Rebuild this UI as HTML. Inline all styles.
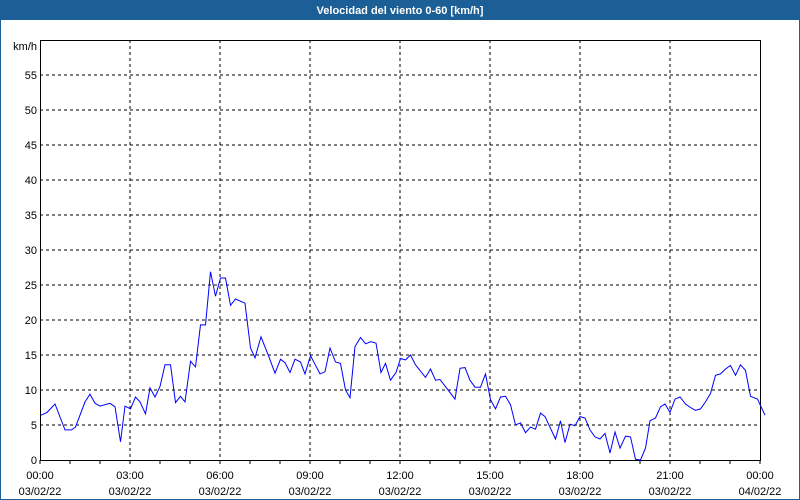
<!DOCTYPE html>
<html><head><meta charset="utf-8"><style>
body{margin:0;background:#fff;}
svg{display:block;font-family:"Liberation Sans",sans-serif;}
</style></head><body>
<svg id="chart" width="800" height="500" viewBox="0 0 800 500">
<rect x="0" y="0" width="800" height="500" fill="#1c5f96"/>
<rect x="1" y="20" width="798" height="479" fill="#fff"/>
<text x="400" y="14" fill="#fff" font-size="11" font-weight="bold" text-anchor="middle">Velocidad del viento 0-60 [km/h]</text>
<text x="37" y="50" font-size="11" text-anchor="end" fill="#000">km/h</text>
<g id="grid"></g>
<g id="axes"></g>
<g id="series"></g>
</svg>
<script>
const minutes=[2,14,30,50,63,71,90,100,110,120,140,150,161,170,181,191,200,211,220,230,240,250,261,271,281,290,301,311,321,331,341,351,361,371,381,391,410,421,430,442,458,470,481,490,
500,510,521,530,541,560,570,580,591,601,611,620,630,641,651,662,672,682,691,701,712,721,731,741,751,771,781,791,800,830,840,850,860,870,881,891,901,911,921,931,941,951,961,971,981,991,
1001,1010,1031,1041,1050,1060,1070,1080,1090,1100,1110,1120,1130,1140,1150,1160,1171,1181,1191,1201,1211,1220,1231,1241,1250,1260,1270,1280,1291,1301,1311,1321,1331,1341,1351,1361,1371,1381,1391,1401,1411,1421,1435,1450,1460,1471,1481,1490,1500,1510];
const speeds=[6.4,6.8,8,4.3,4.3,4.7,8.3,9.4,8.1,7.7,8.1,7.6,2.6,7.7,7.3,9,8.3,6.6,10.3,9,10.5,13.6,13.6,8.2,9.1,8.3,14.1,13.3,19.3,19.3,26.9,23.4,26,26,22.1,23,22.4,16,14.6,17.6,14.7,12.4,14.4,13.9,
12.5,14.4,14,12.3,14.9,12.3,12.6,16,14,13.8,10,8.9,16.2,17.5,16.6,16.9,16.7,12.5,13.8,11.4,12.5,14.5,14.3,15,13.6,11.8,13,11.4,11.5,8.7,13.1,13.2,11.4,10.4,10.4,12.3,8.6,7.3,9,9.1,7.9,5,5.3,3.9,4.7,4.4,
6.7,6.2,3,5.6,2.5,5.1,4.9,6.2,6,4.3,3.3,3,3.8,1,4,1.7,3.4,3.3,0.1,0,1.7,5.6,6,7.6,8,6.8,8.7,9,8,7.5,7.1,7.3,8.3,9.5,12.1,12.3,13,13.5,12.1,13.6,12.8,9.1,8.7,6.4];
const yTicks=[0,5,10,15,20,25,30,35,40,45,50,55];
const xTickLabels=["00:00","03:00","06:00","09:00","12:00","15:00","18:00","21:00","00:00"];
const xDateLabels=["03/02/22","03/02/22","03/02/22","03/02/22","03/02/22","03/02/22","03/02/22","03/02/22","04/02/22"];
const NS="http://www.w3.org/2000/svg";
const L=40,R=760,T=40,B=460,YMAX=60,XMAX=1440;
const xs=m=>L+(m/XMAX)*(R-L);
const ys=v=>B-(v/YMAX)*(B-T);
function mk(tag,attrs,parent){const e=document.createElementNS(NS,tag);for(const k in attrs)e.setAttribute(k,attrs[k]);parent.appendChild(e);return e;}
const grid=document.getElementById('grid'),axes=document.getElementById('axes'),series=document.getElementById('series');
yTicks.forEach(v=>{
  if(v>0){const g=mk('line',{x1:L,x2:R,y1:ys(v),y2:ys(v),stroke:'#000','stroke-dasharray':'3,3','stroke-width':1},grid);
  
  }
  const t=mk('text',{x:37,y:ys(v)+4,'font-size':11,'text-anchor':'end',fill:'#000'},axes);
  t.textContent=v;
  
  
});
xTickLabels.forEach((lab,i)=>{
  const m=i*180,x=xs(m);
  if(i>0&&i<xTickLabels.length-1){const g=mk('line',{x1:x,x2:x,y1:T,y2:B,stroke:'#000','stroke-dasharray':'3,3'},grid);
  
  }
  const t=mk('text',{x:x,y:479,'font-size':11,'text-anchor':'middle',fill:'#000'},axes);
  t.textContent=lab;
  
  
  const d=mk('text',{x:x,y:495,'font-size':11,'text-anchor':'middle',fill:'#000'},axes);
  d.textContent=xDateLabels[i];
  
  
});
for(let h=0;h<=24;h++){const x=xs(h*60);const tk=mk('line',{x1:x,x2:x,y1:B,y2:B+4,stroke:'#000'},axes);
  
  }
const box=mk('rect',{x:L+0.5,y:T+0.5,width:R-L,height:B-T,fill:'none',stroke:'#000'},axes);


const pts=minutes.map((m,i)=>xs(m).toFixed(1)+','+ys(speeds[i]).toFixed(1)).join(' ');
const pl=mk('polyline',{points:pts,fill:'none',stroke:'#0000ff','stroke-width':1},series);


</script>
</body></html>
